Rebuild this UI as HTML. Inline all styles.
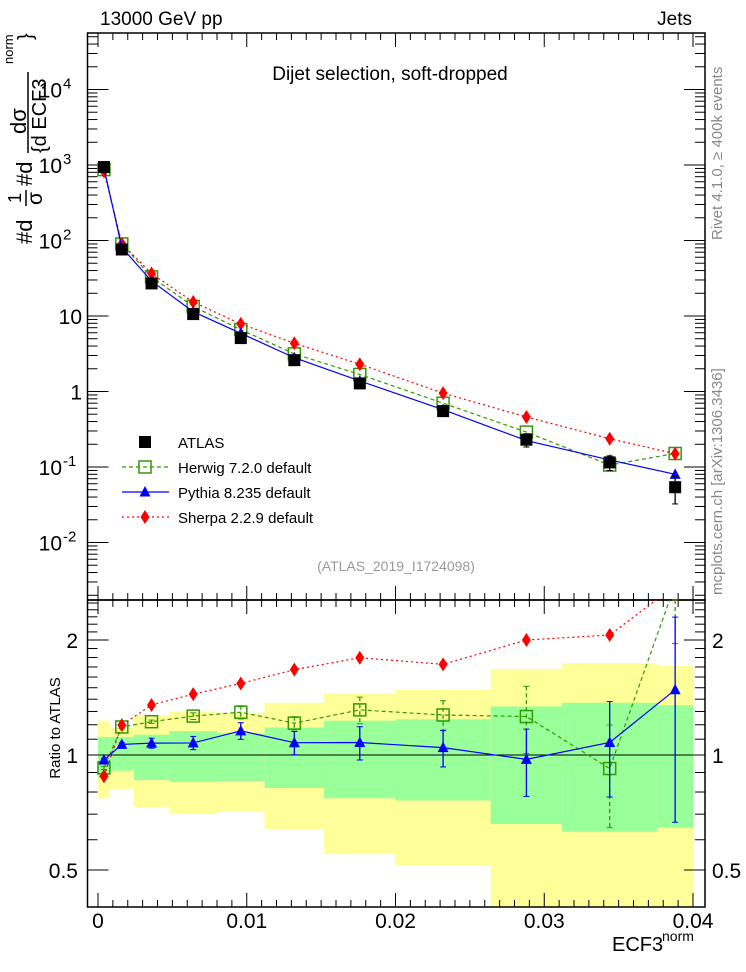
<!DOCTYPE html>
<html><head><meta charset="utf-8"><style>
body{margin:0;background:#fff;}
svg{display:block;font-family:"Liberation Sans",sans-serif;}
</style></head><body>
<svg id="chart" width="746" height="972" viewBox="0 0 746 972">
<g id="bands"></g>
<g id="axes"></g>
<g id="series"></g>
<text x="100" y="25" font-size="19">13000 GeV pp</text>
<text x="692" y="25" font-size="19" text-anchor="end">Jets</text>
<text x="390" y="80" font-size="19" text-anchor="middle">Dijet selection, soft-dropped</text>
<text x="396" y="571" font-size="14" fill="#999" text-anchor="middle">(ATLAS_2019_I1724098)</text>
<text transform="translate(722,240) rotate(-90)" font-size="15" fill="#888">Rivet 4.1.0, ≥ 400k events</text>
<text transform="translate(722,595) rotate(-90)" font-size="15" fill="#888">mcplots.cern.ch [arXiv:1306.3436]</text>
<g>
<text transform="translate(32,244) rotate(-90)" font-size="22">#d</text>
<text transform="translate(21,203) rotate(-90)" font-size="18">1</text>
<line x1="26" y1="206" x2="26" y2="190" stroke="#000" stroke-width="1.5"/>
<text transform="translate(42,205) rotate(-90)" font-size="21">σ</text>
<text transform="translate(32,186) rotate(-90)" font-size="22">#d</text>
<text transform="translate(26,134) rotate(-90)" font-size="22">dσ</text>
<line x1="28" y1="153" x2="28" y2="72" stroke="#000" stroke-width="1.5"/>
<text transform="translate(46,153) rotate(-90)" font-size="20">{d ECF3</text>
<text transform="translate(13,64) rotate(-90)" font-size="13">norm</text>
<text transform="translate(32,40) rotate(-90)" font-size="20">}</text>
</g>
<text transform="translate(60,728) rotate(-90)" font-size="15" text-anchor="middle">Ratio to ATLAS</text>
<text x="612" y="951" font-size="20">ECF3</text>
<text x="662" y="941" font-size="14">norm</text>
<g id="legend"></g>
</svg>
<script>
const binEdges=[0,0.0008,0.0024,0.0048,0.008,0.0112,0.0152,0.02,0.0264,0.0312,0.0376,0.04];
const binCenters=[0.0004,0.0016,0.0036,0.0064,0.0096,0.0132,0.0176,0.0232,0.0288,0.0344,0.0388];
const atlas=[940,76,27,10.6,5.1,2.6,1.28,0.55,0.23,0.115,0.054];
const atlasRelErr=[0.05,0.05,0.05,0.05,0.05,0.05,0.06,0.08,0.2,0.22,0.4];
const herwig=[870,90,33,13.4,6.6,3.15,1.68,0.70,0.29,0.106,0.151];
const pythia=[912,81,29,11.4,5.9,2.8,1.38,0.575,0.224,0.124,0.08];
const sherpa=[827,91,36.5,15.3,7.85,4.35,2.3,0.95,0.46,0.237,0.15];
const pythiaRelErr=[0.01,0.01,0.03,0.04,0.05,0.07,0.1,0.11,0.2,0.28,0.55];
const herwigRelErr=[0.01,0.01,0.01,0.02,0.04,0.04,0.08,0.09,0.2,0.3,0.3];
const greenHi=[1.115,1.115,1.13,1.155,1.14,1.18,1.23,1.24,1.34,1.37,1.35];
const greenLo=[0.87,0.91,0.86,0.85,0.855,0.82,0.77,0.76,0.66,0.63,0.645];
const yellowHi=[1.23,1.18,1.27,1.30,1.29,1.37,1.45,1.48,1.68,1.74,1.71];
const yellowLo=[0.77,0.815,0.73,0.70,0.71,0.64,0.55,0.515,0.3,0.3,0.3];
const mainYTicks=[-2,-1,0,1,2,3,4];
const mainYLabels=["10","10","1","10","10","10","10"];
const mainYExp=["-2","-1","","","2","3","4"];
const ratioTicks=[0.5,1,2];
const xTicks=[0,0.01,0.02,0.03,0.04];

const NS="http://www.w3.org/2000/svg";
const L=87.5,R=705,T=33,MB=600,B=907;
const X=v=>98+v*14875;
const Y=v=>391.5-Math.log10(v)*75.5;
const RYu=v=>755-Math.log10(v)*382;
const RY=v=>Math.min(B,Math.max(MB,RYu(v)));
function mk(tag,attrs,parent){const e=document.createElementNS(NS,tag);for(const k in attrs)e.setAttribute(k,attrs[k]);parent.appendChild(e);return e;}
const bands=document.getElementById('bands'),axes=document.getElementById('axes'),ser=document.getElementById('series'),leg=document.getElementById('legend');

binEdges.slice(0,-1).forEach((e,i)=>{
 const x0=X(e),x1=X(binEdges[i+1]);
 const y=mk('rect',{x:x0,y:RY(yellowHi[i]),width:x1-x0,height:RY(yellowLo[i])-RY(yellowHi[i]),fill:'#ffff99'},bands);
 
 const g=mk('rect',{x:x0,y:RY(greenHi[i]),width:x1-x0,height:RY(greenLo[i])-RY(greenHi[i]),fill:'#99ff99'},bands);
 
});

mk('rect',{x:L,y:T,width:R-L,height:MB-T,fill:'none',stroke:'#000','stroke-width':1.5},axes);
mk('rect',{x:L,y:MB,width:R-L,height:B-MB,fill:'none',stroke:'#000','stroke-width':1.5},axes);
mk('line',{x1:L,y1:755,x2:R,y2:755,stroke:'#000','stroke-width':1},axes);
for(let d=-3;d<=4;d++){for(let m=1;m<10;m++){const v=m*Math.pow(10,d);const y=Y(v);if(y<T||y>MB)continue;const len=m==1?21:10;
 mk('line',{x1:L,y1:y,x2:L+len,y2:y,stroke:'#000'},axes);mk('line',{x1:R,y1:y,x2:R-len,y2:y,stroke:'#000'},axes);}}
mainYTicks.forEach((d,i)=>{const y=Y(Math.pow(10,d));const t=mk('text',{x:mainYExp[i]?62:82,y:y+8,'font-size':21,'text-anchor':'end'},axes);t.textContent=mainYLabels[i];
 
 if(mainYExp[i]){const s=mk('text',{x:63,y:y-1,'font-size':15},axes);s.textContent=mainYExp[i];}});
for(let v=0.4;v<=2.6;v+=0.1){const r=Math.round(v*10)/10;const y=RYu(r);if(y<=MB||y>=B)continue;const maj=ratioTicks.includes(r);const len=maj?21:10;
 mk('line',{x1:L,y1:y,x2:L+len,y2:y,stroke:'#000'},axes);mk('line',{x1:R,y1:y,x2:R-len,y2:y,stroke:'#000'},axes);}
ratioTicks.forEach(r=>{const y=RYu(r);const t=mk('text',{x:78,y:y+8,'font-size':21,'text-anchor':'end'},axes);t.textContent=String(r);
 
 const t2=mk('text',{x:712,y:y+8,'font-size':21},axes);t2.textContent=String(r);
 });
for(let i=0;i<=40;i++){const v=i*0.001;const x=X(v);const maj=i%10==0;const len=maj?14:7;
 [T,MB].forEach(y0=>mk('line',{x1:x,y1:y0,x2:x,y2:y0+len,stroke:'#000'},axes));
 [MB,B].forEach(y0=>mk('line',{x1:x,y1:y0,x2:x,y2:y0-len,stroke:'#000'},axes));}
xTicks.forEach(v=>{const t=mk('text',{x:X(v),y:928,'font-size':21,'text-anchor':'middle'},axes);t.textContent=v===0?'0':String(v);
 });

function marker(type,x,y,col,g){
 if(type=='sq')return mk('rect',{x:x-6,y:y-6,width:12,height:12,fill:'#000'},g);
 if(type=='osq')return mk('rect',{x:x-6,y:y-6,width:12,height:12,fill:'none',stroke:col,'stroke-width':1.5},g);
 if(type=='tri')return mk('polygon',{points:`${x},${y-6} ${x-5.5},${y+4.5} ${x+5.5},${y+4.5}`,fill:col},g);
 if(type=='dia')return mk('polygon',{points:`${x},${y-7} ${x-4.5},${y} ${x},${y+7} ${x+4.5},${y}`,fill:col},g);
}
function clipY(y,top,bot){return Math.min(bot,Math.max(top,y));}
function drawSeries(name,vals,errs,col,dash,type,ratio){
 const g=mk('g',{},ser);
 
 const top=ratio?MB:T,bot=ratio?B:MB;
 const yf=ratio?(v,i)=>RYu(v/atlas[i]):(v)=>Y(v);
 if(col){
  const cid='clip-'+name;const cp=mk('clipPath',{id:cid},g);mk('rect',{x:L,y:top,width:R-L,height:bot-top},cp);
  const pts=vals.map((v,i)=>X(binCenters[i])+','+yf(v,i)).join(' ');
  mk('polyline',{points:pts,fill:'none',stroke:col,'stroke-width':1.2,'stroke-dasharray':dash,'clip-path':`url(#${cid})`},g);}
 vals.forEach((v,i)=>{const x=X(binCenters[i]),y=yf(v,i);
  if(errs){const y1=clipY(yf(v*(1+errs[i]),i),top,bot),y2=clipY(yf(v*(1-errs[i]),i),top,bot);
   mk('line',{x1:x,y1:y1,x2:x,y2:y2,stroke:col||'#000','stroke-width':1.3,'stroke-dasharray':dash},g);
   mk('line',{x1:x-3,y1:y1,x2:x+3,y2:y1,stroke:col||'#000'},g);mk('line',{x1:x-3,y1:y2,x2:x+3,y2:y2,stroke:col||'#000'},g);}
  if(y>=top&&y<=bot){const m=marker(type,x,y,col,g);}
 });
}
drawSeries('herwig-main',herwig,null,'#339900','4,3','osq',false);
drawSeries('sherpa-main',sherpa,null,'#ff0000','2,3','dia',false);
drawSeries('pythia-main',pythia,null,'#0000ff','','tri',false);
drawSeries('atlas-data',atlas,atlasRelErr,null,'','sq',false);
drawSeries('herwig-ratio',herwig,herwigRelErr,'#339900','4,3','osq',true);
drawSeries('sherpa-ratio',sherpa,null,'#ff0000','2,3','dia',true);
drawSeries('pythia-ratio',pythia,pythiaRelErr,'#0000ff','','tri',true);

const legNames=["ATLAS","Herwig 7.2.0 default","Pythia 8.235 default","Sherpa 2.2.9 default"];
const legCols=[null,'#339900','#0000ff','#ff0000'];
const legDash=['','4,3','','2,3'];
const legType=['sq','osq','tri','dia'];
legNames.forEach((n,i)=>{const y=442+i*25;const g=mk('g',{},leg);
 
 if(legCols[i])mk('line',{x1:122,y1:y,x2:169,y2:y,stroke:legCols[i],'stroke-width':1.2,'stroke-dasharray':legDash[i]},g);
 marker(legType[i],145,y,legCols[i],g);
 const t=mk('text',{x:178,y:y+6,'font-size':15},g);t.textContent=n;});
</script>
</body></html>
